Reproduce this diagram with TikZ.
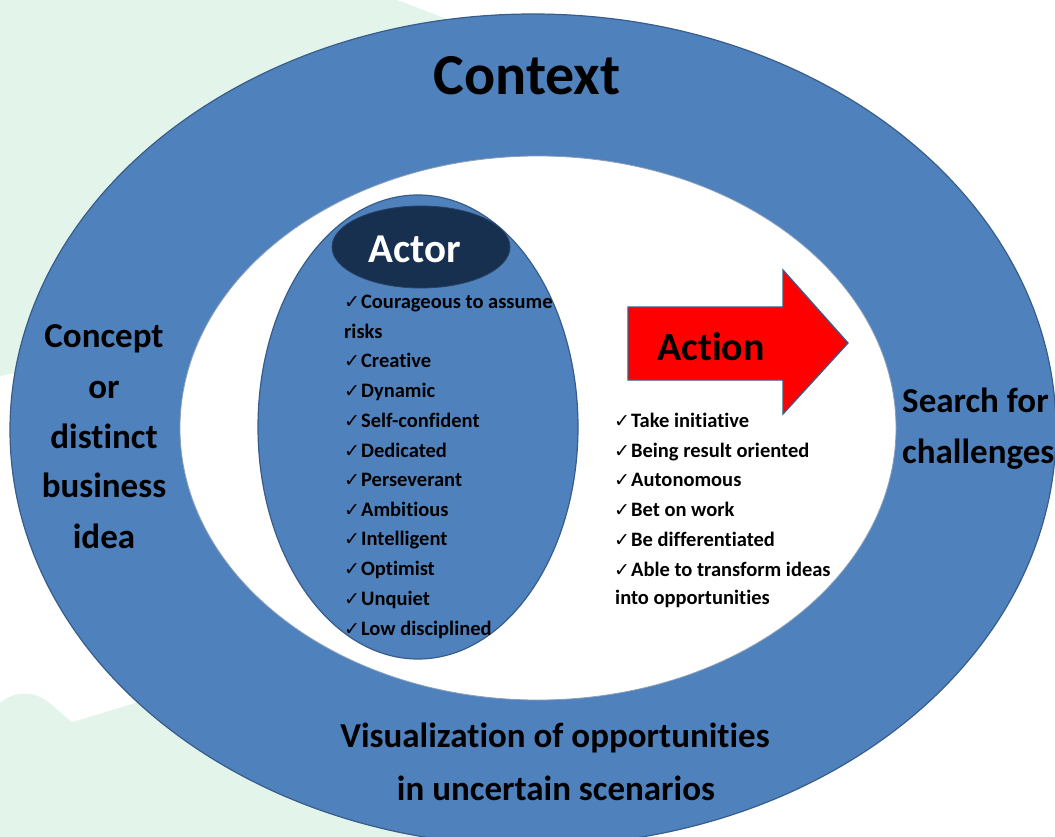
\documentclass[tikz,border=0pt]{standalone}
\usepackage{fontspec}
\setmainfont{Carlito}[Ligatures={NoCommon,NoDiscretionary}]
\newfontfamily\symfont{DejaVu Sans}
\usetikzlibrary{shapes.geometric}
\definecolor{mint}{HTML}{E3F4EA}
\definecolor{ringblue}{HTML}{4F81BD}
\definecolor{edgeblue}{HTML}{385D8A}
\definecolor{navy}{HTML}{17304F}
\newcommand{\ck}{{\symfont\fontsize{19}{19}\selectfont ✓}\hspace{1pt}}
\begin{document}
\begin{tikzpicture}[x=1pt,y=-1pt,
  oval/.style={ellipse, inner sep=0pt, draw=edgeblue, line width=1.2pt},
  big/.style={font=\bfseries\fontsize{35}{35}\selectfont, inner sep=0pt},
  item/.style={font=\bfseries\fontsize{20.5}{20.5}\selectfont, anchor=base west, inner sep=0pt},
]
\useasboundingbox (0,0) rectangle (1055,837);
\fill[white] (0,0) rectangle (1055,837);
% background wash
\fill[mint] (0,0) -- (397,0) -- (455,22) -- (300,300) -- (25,371) -- (0,376) -- cycle;
\fill[mint] (0,703) .. controls (10,694) and (25,691) .. (38,696) .. controls (52,702) and (62,716) .. (73,722) -- (145,700) -- (300,650) -- (470,837) -- (0,837) -- cycle;
% rings
\node[oval, fill=ringblue, minimum width=1046pt, minimum height=832pt] (context) at (533,430) {};
\node[ellipse, inner sep=0pt, fill=white, draw=edgeblue!60, line width=0.8pt, minimum width=716pt, minimum height=544pt] (stage) at (538,428) {};
\node[oval, fill=ringblue, minimum width=320pt, minimum height=464pt] (actor) at (418,427) {};
\node[ellipse, inner sep=0pt, fill=navy, draw=edgeblue!70!black, line width=0.8pt, minimum width=178pt, minimum height=82pt] (actorlabel) at (421,247) {};
\node[font=\bfseries\fontsize{41}{41}\selectfont, text=white, anchor=base, inner sep=0pt] (actortitle) at (415,262) {Actor};
% action arrow
\draw[fill=red, draw=edgeblue, line width=1.3pt] (628,307) -- (783,307) -- (783,270) -- (848,343) -- (783,414) -- (783,380) -- (628,380) -- cycle;
\node[font=\bfseries\fontsize{40}{40}\selectfont, anchor=base, inner sep=0pt] (action) at (711,360) {Action};
% titles
\node[font=\bfseries\fontsize{58}{58}\selectfont, anchor=base, inner sep=0pt] (ctx) at (527,95) {Context};
\foreach \txt/\yy [count=\i] in {Concept/347, or/398, distinct/448, business/497, idea/548}
  \node[big, anchor=base] (idea\i) at (104,\yy) {\txt};
\node[big, anchor=base west] (search1) at (902,412) {Search for};
\node[big, anchor=base west] (search2) at (902,463) {challenges};
\node[big, anchor=base] (vis1) at (555,747) {Visualization of opportunities};
\node[big, anchor=base] (vis2) at (556,800) {in uncertain scenarios};
% actor list
\node[item] (a0) at (344,308) {\ck Courageous to assume};
\node[item] (a00) at (344,338) {risks};
\foreach \txt/\yy [count=\i] in {Creative/367, Dynamic/397, Self-confident/427, Dedicated/457, Perseverant/486, Ambitious/516, Intelligent/545, Optimist/575, Unquiet/605, Low disciplined/635}
  \node[item] (a\i) at (344,\yy) {\ck\txt};
% action list
\foreach \txt/\yy [count=\i] in {Take initiative/427, Being result oriented/457, Autonomous/486, Bet on work/516, Be differentiated/546, Able to transform ideas/576}
  \node[item] (b\i) at (614,\yy) {\ck\txt};
\node[item] (b7) at (615,604) {into opportunities};
\end{tikzpicture}
\end{document}
